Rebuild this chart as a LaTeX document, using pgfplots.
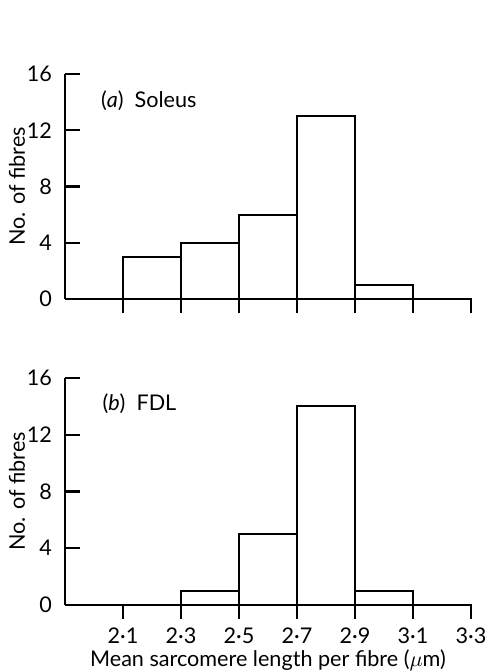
\documentclass[border=0pt]{standalone}
\usepackage{pgfplots}
\pgfplotsset{compat=1.18}
\usepackage{fontspec}
\setmainfont{Lato}

\pgfplotsset{
  histo/.style={
    scale only axis, width=203pt,
    xmin=1.9, xmax=3.3, ymin=0, ymax=16,
    axis lines=left,
    axis line style={line width=1.1pt, -},
    every tick/.style={black, line width=1.1pt},
    tick align=inside, major tick length=7.5pt,
    xtick style={yshift=-7pt},
    ytick={0,4,8,12,16},
    xtick={2.1,2.3,2.5,2.7,2.9,3.1,3.3},
    /pgf/number format/assume math mode=true,
    yticklabel style={xshift=-3pt},
    ylabel={No. of fibres},
    ylabel style={at={(axis description cs:-0.118,0.5)}, anchor=center},
    font=\fontsize{10.8}{12}\selectfont,
  },
  bars/.style={ybar interval, fill=white, draw=black, line width=1.1pt},
}

\begin{document}
\begin{tikzpicture}
  \path[use as bounding box] (-32.5pt,-186.5pt) rectangle (211.5pt,149.5pt);

  % (a) soleus
  \begin{axis}[histo, height=112.5pt, at={(0,0)}, anchor=south west,
      xticklabels={}]
    \addplot[bars] coordinates {(2.1,3) (2.3,4) (2.5,6) (2.7,13) (2.9,1) (3.1,1)};
    \node[anchor=west] at (axis cs:2.0,14.1) {(\textit{a})\ \ Soleus};
  \end{axis}

  % (b) FDL
  \begin{axis}[histo, height=113.5pt, at={(0,-153pt)}, anchor=south west,
      xticklabels={2·1,2·3,2·5,2·7,2·9,3·1,3·3},
      xticklabel style={yshift=-8pt},
      xlabel={Mean sarcomere length per fibre ($\mu$m)},
      xlabel style={at={(axis description cs:0.5,0)}, yshift=-27.5pt, anchor=center}]
    \addplot[bars] coordinates {(2.3,1) (2.5,5) (2.7,14) (2.9,1) (3.1,1)};
    \node[anchor=west] at (axis cs:2.005,14.2) {(\textit{b})\ \ FDL};
  \end{axis}
\end{tikzpicture}
\end{document}
